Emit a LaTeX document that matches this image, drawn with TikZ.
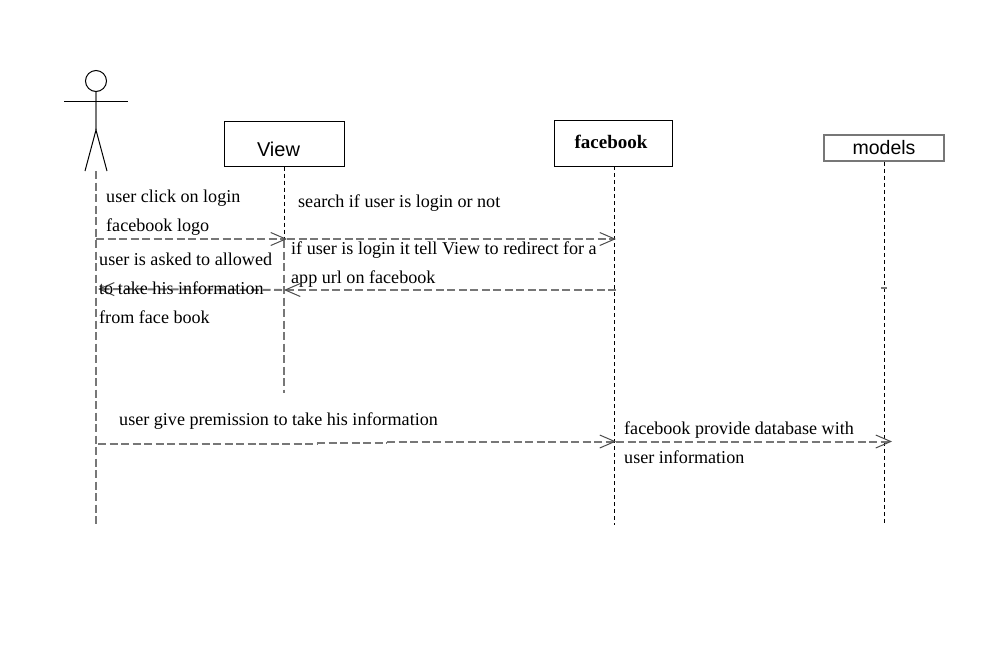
\documentclass[tikz,border=0pt]{standalone}
\usepackage{fontspec}
\setmainfont{Liberation Serif}
\setsansfont{Liberation Sans}
\usetikzlibrary{arrows.meta}
\definecolor{linegray}{HTML}{777777}
\tikzset{
  objbox/.style={draw,line width=1pt,minimum height=#1,inner sep=0pt,minimum width=120pt},
  msgtext/.style={anchor=west,align=left,inner sep=0pt,font=\fontsize{18.1}{29}\selectfont},
  lifeblack/.style={line width=1pt,dash pattern=on 4pt off 3pt},
  lifegray/.style={linegray,line width=2pt,dash pattern=on 8pt off 3.5pt},
  msgarrow/.style={lifegray,-{Straight Barb[length=15pt,width=13pt,line width=1pt,black!70]}}
}
\begin{document}
\begin{tikzpicture}[x=1pt,y=-1pt]
  \useasboundingbox (0,0) rectangle (999,646);
  % Actor
  \node[draw,circle,line width=1pt,minimum size=21pt,inner sep=0pt] (head) at (96,81) {};
  \coordinate (hip) at (96,130);
  \coordinate (footl) at (85,171);
  \coordinate (footr) at (107,171);
  \coordinate (arml) at (64,101);
  \coordinate (armr) at (128,101);
  \draw[linegray,line width=2pt] (head.south) -- (hip);
  \draw[line width=1pt] (arml) -- (armr);
  \draw[line width=1pt] (footl) -- (hip) -- (footr);
  % Objects
  \node[objbox=45pt] (view) at (284,143.5) {};
  \node[font=\sffamily\fontsize{20}{24}\selectfont,inner sep=0pt] (viewname) at (278.5,149) {View};
  \node[objbox=46pt,minimum width=118pt] (facebook) at (613,143) {};
  \node[font=\bfseries\fontsize{19}{20}\selectfont,inner sep=0pt] (fbname) at (611,142) {facebook};
  \node[objbox=26pt,draw=linegray,line width=1.5pt] (models) at (884,148) {};
  \node[font=\sffamily\fontsize{19.5}{24}\selectfont,inner sep=0pt] (modelsname) at (884,148) {models};
  % Lifeline ends and message points
  \coordinate (actortop) at (95.5,171);
  \coordinate (actorend) at (95.5,525);
  \coordinate (viewmid) at (284,240);
  \coordinate (viewend) at (284,393);
  \coordinate (fbtop) at (614.5,166);
  \coordinate (fbend) at (614.5,525);
  \coordinate (modelsend) at (884,525);
  \coordinate (clicka) at (96,239);
  \coordinate (clickb) at (287,239);
  \coordinate (searchb) at (616,239);
  \coordinate (backa) at (616,290);
  \coordinate (backb) at (284,290);
  \coordinate (aska) at (282,290);
  \coordinate (askb) at (98,289);
  \coordinate (givea) at (98,444);
  \coordinate (givem) at (317,444);
  \coordinate (givec) at (317,443);
  \coordinate (gives) at (387,443);
  \coordinate (gived) at (387,441.5);
  \coordinate (giveb) at (616,441.5);
  \coordinate (provb) at (892,441.5);
  \coordinate (ticka) at (881,288);
  \coordinate (tickb) at (887,288);
  % Lifelines
  \draw[lifegray] (actortop) -- (actorend);
  \draw[lifeblack] (view.south) -- (viewmid);
  \draw[lifegray] (viewmid) -- (viewend);
  \draw[lifeblack] (fbtop) -- (fbend);
  \draw[lifeblack] (models.south) -- (modelsend);
  \draw[linegray,line width=1.5pt] (ticka) -- (tickb);
  % Messages
  \draw[msgarrow] (clicka) -- (clickb);
  \draw[msgarrow] (clickb) -- (searchb);
  \draw[msgarrow] (backa) -- (backb);
  \draw[msgarrow] (aska) -- (askb);
  \draw[lifegray] (givea) -- (givem);
  \draw[lifegray] (givec) -- (gives);
  \draw[msgarrow] (gived) -- (giveb);
  \draw[msgarrow] (giveb) -- (provb);
  % Labels
  \node[msgtext] (click) at (106,213) {user click on login\\facebook logo};
  \node[msgtext] (search) at (298,203) {search if user is login or not};
  \node[msgtext] (redirect) at (291,265) {if user is login it tell View to redirect for a\\app url on facebook};
  \node[msgtext] (ask) at (99,288.5) {user is asked to allowed\\to take his information\\from face book};
  \node[msgtext] (give) at (119,421) {user give premission to take his information};
  \node[msgtext] (provide) at (624,443) {facebook provide database with\\user information};
\end{tikzpicture}
\end{document}
